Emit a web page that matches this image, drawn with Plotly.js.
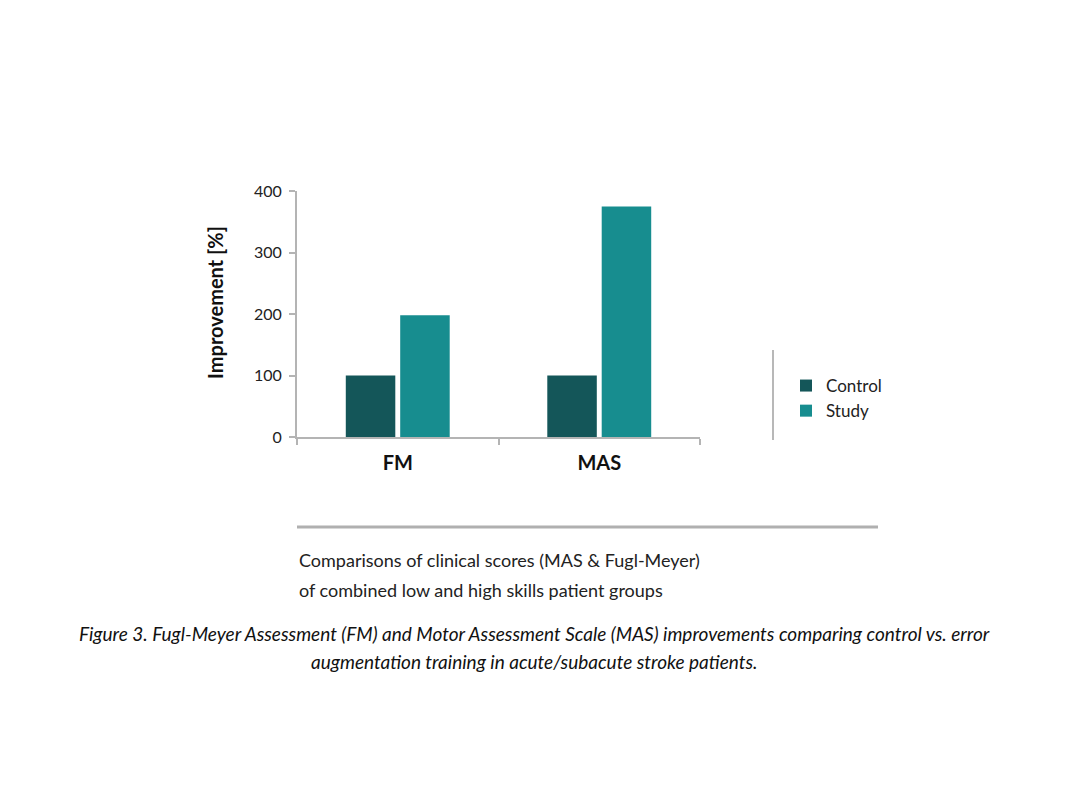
<!DOCTYPE html>
<html>
<head>
<meta charset="utf-8">
<script src="https://cdn.plot.ly/plotly-3.0.1.min.js"></script>
<style>
html,body{margin:0;padding:0;background:#fff;}
#chart{width:1084px;height:812px;}
</style>
</head>
<body>
<div id="chart"></div>
<script>
const categories = ["FM", "MAS"];
const controlValues = [100, 100];
const studyValues = [198, 375];
const seriesNames = ["Control", "Study"];
const yTicks = [0, 100, 200, 300, 400];

const W = 1084, H = 812;
const L = 297, R = 700, T = 191, B = 437;
function px(x){ return (x - L) / (R - L); }
function py(y){ return (B - y) / (B - T); }

const traces = [
  {type:'bar', name: seriesNames[0], x: categories, y: controlValues,
   marker:{color:'#145659'}, hoverinfo:'x+y+name'},
  {type:'bar', name: seriesNames[1], x: categories, y: studyValues,
   marker:{color:'#178D8F'}, hoverinfo:'x+y+name'}
];

const layout = {
  width: W, height: H,
  margin: {l: L, r: W - R, t: T, b: H - B, pad: 0},
  paper_bgcolor: '#fff', plot_bgcolor: '#fff',
  font: {family: 'Lato, "Open Sans", sans-serif', color: '#222'},
  barmode: 'group', bargap: 0.46, bargroupgap: 0.09,
  showlegend: true,
  legend: {x: px(786), y: py(368), xanchor: 'left', yanchor: 'top',
           font: {size: 17, color: '#222'}, tracegroupgap: 0,
           itemwidth: 30, bgcolor: 'rgba(0,0,0,0)'},
  xaxis: {
    type: 'category', showgrid: false, zeroline: false,
    showline: true, linecolor: '#b4b4b4', linewidth: 2,
    ticks: 'outside', tickson: 'boundaries', ticklen: 6, tickcolor: '#b4b4b4', tickwidth: 2,
    tickfont: {size: 20, color: '#111', family: 'Lato, sans-serif', weight: 'bold'},
    ticklabelstandoff: 7
  },
  yaxis: {
    range: [0, 400], tickvals: yTicks, showgrid: false, zeroline: false,
    showline: true, linecolor: '#b4b4b4', linewidth: 2,
    ticks: 'outside', ticklen: 6, tickcolor: '#b4b4b4', tickwidth: 2,
    tickfont: {size: 16, color: '#222'}, ticklabelstandoff: 4
  },
  shapes: [
    {type:'line', xref:'paper', yref:'paper', x0: px(773), x1: px(773), y0: py(350), y1: py(440),
     line:{color:'#b8b8b8', width:2}},
    {type:'line', xref:'paper', yref:'paper', x0: px(297), x1: px(878), y0: py(527), y1: py(527),
     line:{color:'#b0b0b0', width:3}}
  ],
  annotations: [
    {xref:'paper', yref:'paper', x: px(215), y: py(303), text: 'Improvement [%]', textangle: -90,
     showarrow:false, font:{size: 20, color:'#111', weight:'bold'}, xanchor:'center', yanchor:'middle'},
    {xref:'paper', yref:'paper', x: px(297), y: py(560), text: 'Comparisons of clinical scores (MAS &amp; Fugl-Meyer)',
     showarrow:false, xanchor:'left', yanchor:'middle', font:{size: 18, color:'#222'}},
    {xref:'paper', yref:'paper', x: px(297), y: py(590), text: 'of combined low and high skills patient groups',
     showarrow:false, xanchor:'left', yanchor:'middle', font:{size: 18, color:'#222'}},
    {xref:'paper', yref:'paper', x: px(534), y: py(633), text: '<i>Figure 3. Fugl-Meyer Assessment (FM) and Motor Assessment Scale (MAS) improvements comparing control vs. error</i>',
     showarrow:false, xanchor:'center', yanchor:'middle', font:{size: 19, color:'#111'}},
    {xref:'paper', yref:'paper', x: px(534), y: py(661), text: '<i>augmentation training in acute/subacute stroke patients.</i>',
     showarrow:false, xanchor:'center', yanchor:'middle', font:{size: 19, color:'#111'}}
  ]
};

Plotly.newPlot('chart', traces, layout, {displayModeBar: false, staticPlot: true});
</script>
</body>
</html>
